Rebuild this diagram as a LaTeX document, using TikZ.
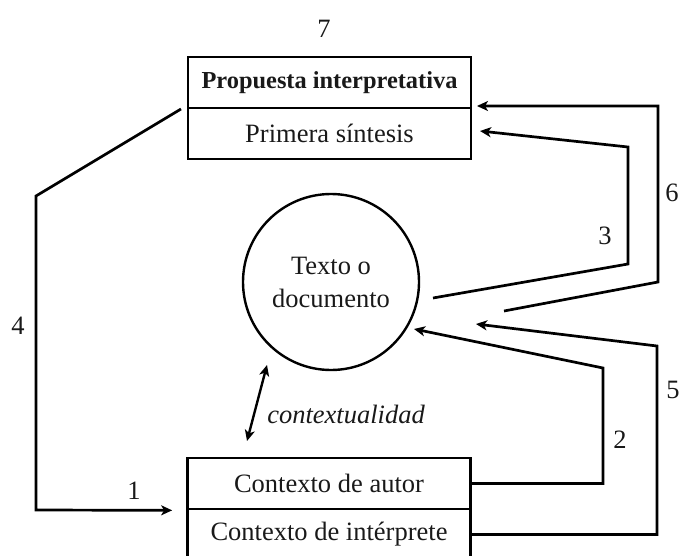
\documentclass[tikz,border=0pt]{standalone}
\usepackage{fontspec}
\setmainfont{Liberation Serif}
\usetikzlibrary{arrows.meta}
\begin{document}
\begin{tikzpicture}[x=1pt,y=-1pt, line width=2.7pt,
  txt/.style={font=\fontsize{26.5}{33}\selectfont, text=black!90},
  part/.style={draw, minimum width=283pt, minimum height=51pt, inner sep=0pt, txt},
  arr/.style={-{Stealth[length=11pt,width=10pt,inset=3pt]}},
  num/.style={txt}]
\useasboundingbox (0,0) rectangle (679,556);
% boxes
\node[part, font=\bfseries\fontsize{24.4}{30}\selectfont] (pa) at (329.5,82.5) {Propuesta interpretativa};
\node[part] (ps) at (329.5,133.5) {Primera síntesis};
\node[draw, circle, minimum size=176pt, inner sep=0pt, txt, align=center, line width=2.4pt] (doc) at (331,282) {Texto o\\documento};
\node[part] (ca) at (329,483.5) {Contexto de autor};
\node[part] (ci) at (329,534.5) {Contexto de intérprete};
% free ends
\coordinate (s4) at (181,109);
\coordinate (t2) at (414,329);
\coordinate (t5) at (476,324);
\coordinate (s3) at (433,298);
\coordinate (t3) at (480,131);
\coordinate (s6) at (504,311);
\coordinate (t6) at (477,106);
\coordinate (c1) at (247,441);
\coordinate (c2) at (267,365);
% connectors
\draw[arr] (s4) -- (36,196) -- (36,510) -- ([xshift=-14pt]ca.south west);
\draw[arr] (ca.east) -| (603,368) -- (t2);
\draw[arr] (ci.east) -| (657,346) -- (t5);
\draw[arr] (s3) -- (628,264) -- (628,147) -- (t3);
\draw[arr] (s6) -- (658,282) -- (658,106) -- (t6);
\draw[{Stealth[length=11pt,width=10pt,inset=3pt]}-{Stealth[length=11pt,width=10pt,inset=3pt]}, line width=2.4pt] (c1) -- (c2);
% labels
\node[num] (n7) at (324,29) {7};
\node[num] (n4) at (18,326) {4};
\node[num] (n1) at (134,491) {1};
\node[num] (n3) at (605,236) {3};
\node[num] (n6) at (672,193) {6};
\node[num] (n5) at (673,390) {5};
\node[num] (n2) at (620,440) {2};
\node[txt, font=\itshape\fontsize{26.5}{33}\selectfont] (ctx) at (346,414) {contextualidad};
\end{tikzpicture}
\end{document}
